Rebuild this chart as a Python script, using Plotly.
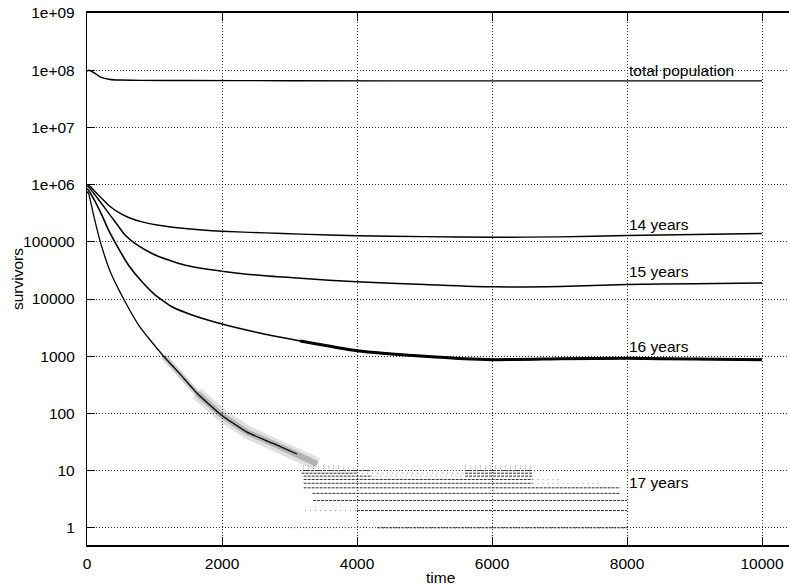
import numpy as np
import plotly.graph_objects as go

# ---------------- data ----------------
total_t = [0, 30, 120, 200, 345, 500, 800, 1500, 3000, 6000, 10000]
total_v = [9.6e7, 1.0e8, 8.8e7, 7.6e7, 6.9e7, 6.75e7, 6.65e7, 6.6e7, 6.55e7, 6.5e7, 6.5e7]

y14_t = [0, 25, 172, 320, 468, 616, 815, 1061, 1456, 2000, 2641, 3160, 4000, 5000, 6000, 7000, 8000, 9000, 10000]
y14_v = [1.0e6, 9.8e5, 6.5e5, 4.36e5, 3.26e5, 2.66e5, 2.23e5, 1.95e5, 1.71e5, 1.53e5, 1.43e5, 1.36e5,
         1.28e5, 1.23e5, 1.2e5, 1.22e5, 1.29e5, 1.34e5, 1.4e5]

y15_t = [0, 25, 123, 271, 419, 567, 716, 963, 1209, 1456, 2000, 2641, 3160, 4000, 5000, 6000, 7000, 8000, 9000, 10000]
y15_v = [9.5e5, 9.1e5, 6.5e5, 3.8e5, 2.22e5, 1.30e5, 9.3e4, 6.25e4, 4.8e4, 3.9e4, 3.07e4, 2.54e4, 2.3e4,
         2.0e4, 1.8e4, 1.63e4, 1.65e4, 1.8e4, 1.85e4, 1.9e4]

y16_t = [0, 25, 123, 222, 320, 468, 616, 815, 1012, 1259, 1556, 2000, 2641, 3160, 4000, 5000, 6000, 7000, 8000, 9000, 10000]
y16_v = [8.5e5, 7.9e5, 5.0e5, 2.9e5, 1.6e5, 7.6e4, 3.9e4, 2.0e4, 1.17e4, 7300, 5250, 3650, 2420, 1850,
         1250, 1000, 870, 900, 920, 890, 870]

y17_t = [0, 25, 98, 197, 345, 543, 765, 938, 1136, 1383, 1630, 1990, 2370, 2765, 3111, 3259, 3412]
y17_v = [7.5e5, 6.9e5, 2.9e5, 1.0e5, 3.0e4, 1.0e4, 3500, 1900, 1000, 480, 225, 94, 47, 29.5, 19.5, 16, 13]

# 17-year survivors in the low-count regime: integer counts held over time spans
dense_level = [1, 2, 3, 4, 5, 6, 7, 8, 9, 10, 8, 9, 10]
dense_start = [4300, 4000, 3350, 3340, 3210, 3210, 3210, 3210, 3180, 3200, 5600, 5600, 5600]
dense_end = [8000, 8000, 8000, 7900, 7900, 6600, 6600, 4200, 4000, 4200, 6600, 6600, 6600]
sparse_level = [1, 2, 6, 7, 8, 9, 10, 11, 12, 11, 12]
sparse_start = [3000, 3230, 6600, 6600, 4200, 4000, 4200, 3200, 3200, 5600, 5600]
sparse_end = [4300, 4000, 7600, 7000, 5600, 5600, 5600, 4000, 3800, 6600, 6600]

label_text = ["total population", "14 years", "15 years", "16 years", "17 years"]
label_x = [8000, 8000, 8000, 8000, 8000]
label_y = [1e8, 2e5, 3e4, 1500, 6.3]

x_ticks = [0, 2000, 4000, 6000, 8000, 10000]
y_ticks = [1, 10, 100, 1000, 10000, 100000, 1e6, 1e7, 1e8, 1e9]
y_ticktext = ["1", "10", "100", "1000", "10000", "100000", "1e+06", "1e+07", "1e+08", "1e+09"]

# ---------------- figure ----------------
FONT = "Liberation Sans, Arial, Helvetica, sans-serif"
FS = 15.5
fig = go.Figure()

def seg_xy(levels, starts, ends):
    xs, ys = [], []
    for lv, s, e in zip(levels, starts, ends):
        xs += [s, e, None]
        ys += [lv, lv, None]
    return xs, ys

# noisy band of the 17-year curve (scatter of the stochastic runs)
band_outer = [i for i, t in enumerate(y17_t) if t >= 1630]
band_inner = [i for i, t in enumerate(y17_t) if t >= 1136]
fig.add_trace(go.Scatter(x=[y17_t[i] for i in band_outer], y=[y17_v[i] for i in band_outer],
                         mode="lines", line=dict(color="rgba(0,0,0,0.12)", width=13),
                         hoverinfo="skip", showlegend=False))
fig.add_trace(go.Scatter(x=[y17_t[i] for i in band_inner], y=[y17_v[i] for i in band_inner],
                         mode="lines", line=dict(color="rgba(0,0,0,0.2)", width=6),
                         hoverinfo="skip", showlegend=False))

sx, sy = seg_xy(sparse_level, sparse_start, sparse_end)
fig.add_trace(go.Scatter(x=sx, y=sy, mode="lines",
                         line=dict(color="#999", width=1, dash="1px,4px"),
                         hoverinfo="skip", showlegend=False))
dx, dy = seg_xy(dense_level, dense_start, dense_end)
fig.add_trace(go.Scatter(x=dx, y=dy, mode="lines",
                         line=dict(color="#333", width=1, dash="3px,1px"),
                         hoverinfo="skip", showlegend=False))

for t, v, w in [(total_t, total_v, 1.4), (y14_t, y14_v, 1.4), (y15_t, y15_v, 1.5),
                (y16_t, y16_v, 1.6)]:
    fig.add_trace(go.Scatter(x=t, y=v, mode="lines",
                             line=dict(color="black", width=w, shape="spline", smoothing=0.5),
                             hoverinfo="skip", showlegend=False))
main17 = [i for i, t in enumerate(y17_t) if t <= 3111]
fig.add_trace(go.Scatter(x=[y17_t[i] for i in main17], y=[y17_v[i] for i in main17], mode="lines",
                         line=dict(color="black", width=1.3, shape="spline", smoothing=0.5),
                         hoverinfo="skip", showlegend=False))

# extra thickness of the noisy 16-year tail
tail = [i for i, t in enumerate(y16_t) if t >= 3160]
fig.add_trace(go.Scatter(x=[y16_t[i] for i in tail], y=[y16_v[i] for i in tail], mode="lines",
                         line=dict(color="black", width=3, shape="spline", smoothing=0.5),
                         hoverinfo="skip", showlegend=False))

for txt, lx, ly in zip(label_text, label_x, label_y):
    fig.add_annotation(x=lx, y=np.log10(ly), xref="x", yref="y", text=txt, showarrow=False,
                       xanchor="left", yanchor="middle", font=dict(size=FS, color="black", family=FONT))

fig.add_annotation(x=0.503, y=0, xref="paper", yref="paper", yshift=-32, text="time", showarrow=False,
                   xanchor="center", yanchor="middle", font=dict(size=FS, color="black", family=FONT))
fig.add_annotation(x=0, y=0.5, xref="paper", yref="paper", xshift=-70, text="survivors", showarrow=False,
                   textangle=-90, xanchor="center", yanchor="middle",
                   font=dict(size=FS, color="black", family=FONT))

grid = dict(showgrid=True, gridcolor="#333", gridwidth=1, griddash="1px,2px")
fig.update_xaxes(range=[0, 10400], tickvals=x_ticks, ticktext=[str(v) for v in x_ticks],
                 ticks="inside", ticklen=8, tickwidth=1.3, tickcolor="black",
                 showline=True, linecolor="black", linewidth=1.6, mirror="allticks",
                 zeroline=False, ticklabelstandoff=4, automargin=False,
                 ticklabeloverflow="allow", **grid)
fig.update_yaxes(type="log", range=[np.log10(0.5), 9.0005], tickvals=y_ticks, ticktext=y_ticktext,
                 ticks="inside", ticklen=8, tickwidth=1.3, tickcolor="black",
                 showline=True, linecolor="black", linewidth=1.3, mirror=False,
                 zeroline=False, ticklabelstandoff=8, automargin=False,
                 ticklabeloverflow="allow", **grid)

fig.update_layout(width=789, height=585,
                  margin=dict(l=87, r=0, t=13, b=40, autoexpand=False),
                  paper_bgcolor="white", plot_bgcolor="white", hovermode=False,
                  font=dict(family=FONT, size=FS, color="black"))

fig.write_html("out.html", config={"displayModeBar": False},
               post_script="document.body.style.margin='0px';document.body.style.overflow='hidden';")
